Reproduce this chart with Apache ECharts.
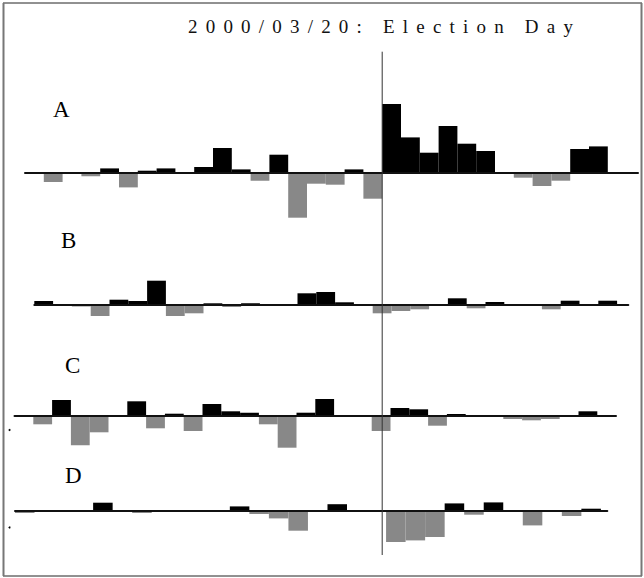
<!DOCTYPE html>
<html>
<head>
<meta charset="utf-8">
<script src="https://cdn.jsdelivr.net/npm/echarts@6/dist/echarts.min.js"></script>
<style>
  html, body { margin: 0; padding: 0; background: #fff; }
  #chart { width: 644px; height: 578px; }
  /* spaced-out serif lettering for the heading */
  #chart svg text { letter-spacing: 8.2px; }
</style>
</head>
<body>
<div id="chart"></div>
<script>
// ---- data ---------------------------------------------------------------
const titleText = '2000/03/20: Election Day';
const panelNames = ['A', 'B', 'C', 'D'];
const electionIndex = 19;   // first period after the election in panel A

const valuesA = [0, -9.3, 0, -3.5, 4.3, -14.7, 2, 4.3, 0, 5.7, 24.7, 3.3, -8, 18, -45, -11, -12, 3.3, -26,
                 68.7, 35.3, 20, 46.7, 29, 21.7, 0, -5, -13.3, -8, 23.7, 26.3, 0];
const valuesB = [4, 0, -1.5, -11, 5.3, 4, 24.3, -11, -8.3, 1.7, -2, 1.7, 0, 0, 11.7, 13, 2.7, 0,
                 -8.3, -6, -4.3, 0, 6.7, -3.3, 3, 0, 0, -4.3, 4.3, 0, 4.3];
const valuesC = [0, -8.3, 16, -29.3, -16.3, 0, 14.7, -12.3, 2.3, -15, 12, 4.7, 3.3, -8.3, -31.7, 3.3, 17, 0, 0,
                 -15, 8, 6.7, -9.7, 2, 0, 0, -3, -4.3, -3, 0, 4.7, 0];
const valuesD = [-2.3, 0, 0, 0, 8, 0, -2.3, 0, 0, 0, 0, 4.3, -3.3, -7.7, -20, 0, 6.5, 0, 0,
                 -31.3, -29.7, -26.3, 7.3, -4, 8.3, 0, -14.7, 0, -5.3, 2];
const panelValues = [valuesA, valuesB, valuesC, valuesD];

// ---- layout (pixels) ------------------------------------------------------
const layout = [
  { x0: 25,   bw: 18.8,  x1: 638,   base: 172.7, up: 80, down: 60, labelX: 53, labelY: 109 },
  { x0: 34.3, bw: 18.8,  x1: 628.3, base: 305,   up: 40, down: 30, labelX: 61, labelY: 240 },
  { x0: 14.5, bw: 18.8,  x1: 616,   base: 416,   up: 30, down: 40, labelX: 65, labelY: 365 },
  { x0: 15,   bw: 19.53, x1: 607.3, base: 510.7, up: 30, down: 40, labelX: 65, labelY: 475 }
];

const POS = '#000000';
const NEG = '#888888';

const grids = [], xAxes = [], yAxes = [], series = [];
layout.forEach((p, k) => {
  grids.push({ left: p.x0, top: p.base - p.up, width: p.x1 - p.x0, height: p.up + p.down });
  xAxes.push({
    type: 'value', gridIndex: k, min: 0, max: (p.x1 - p.x0) / p.bw, z: 3,
    axisLine: { show: true, onZero: true, lineStyle: { color: '#111', width: 2 } },
    axisTick: { show: false }, axisLabel: { show: false }, splitLine: { show: false }
  });
  yAxes.push({
    type: 'value', gridIndex: k, min: -p.down, max: p.up,
    axisLine: { show: false }, axisTick: { show: false }, axisLabel: { show: false }, splitLine: { show: false }
  });
  series.push({
    type: 'bar', xAxisIndex: k, yAxisIndex: k, barWidth: p.bw, silent: true,
    data: panelValues[k].map((v, i) => [i + 0.5, v]),
    itemStyle: { color: (d) => (d.value[1] >= 0 ? POS : NEG) }
  });
});

const chart = echarts.init(document.getElementById('chart'), null, { renderer: 'svg' });
chart.setOption({
  animation: false,
  backgroundColor: '#fff',
  grid: grids, xAxis: xAxes, yAxis: yAxes, series: series
});

// election-day marker, frame, heading and panel letters
const eX = chart.convertToPixel({ xAxisIndex: 0 }, electionIndex);
const serif = '"Liberation Serif", "DejaVu Serif", serif';
const graphics = [
  { type: 'line', shape: { x1: 3, y1: 3, x2: 642, y2: 3 }, style: { stroke: '#222', lineWidth: 1 } },
  { type: 'line', shape: { x1: 3, y1: 576, x2: 642, y2: 576 }, style: { stroke: '#222', lineWidth: 1 } },
  { type: 'line', shape: { x1: 3.5, y1: 3, x2: 3.5, y2: 576 }, style: { stroke: '#777', lineWidth: 2 } },
  { type: 'line', shape: { x1: 641.5, y1: 3, x2: 641.5, y2: 576 }, style: { stroke: '#777', lineWidth: 2 } },
  { type: 'line', z: 10, shape: { x1: eX, y1: 51.7, x2: eX, y2: 555 }, style: { stroke: '#333', lineWidth: 1 } },
  { type: 'circle', shape: { cx: 9.5, cy: 430, r: 1 }, style: { fill: '#000' } },
  { type: 'circle', shape: { cx: 9.5, cy: 527.5, r: 1 }, style: { fill: '#000' } },
  { type: 'text', style: { x: 188, y: 26.5, text: titleText, font: '19px ' + serif,
                           fill: '#111', textAlign: 'left', textVerticalAlign: 'middle' } }
];
panelNames.forEach((name, k) => {
  graphics.push({ type: 'text', style: { x: layout[k].labelX, y: layout[k].labelY, text: name,
                  font: '23px ' + serif, fill: '#000', textAlign: 'left', textVerticalAlign: 'middle' } });
});
chart.setOption({ graphic: graphics });
</script>
</body>
</html>
